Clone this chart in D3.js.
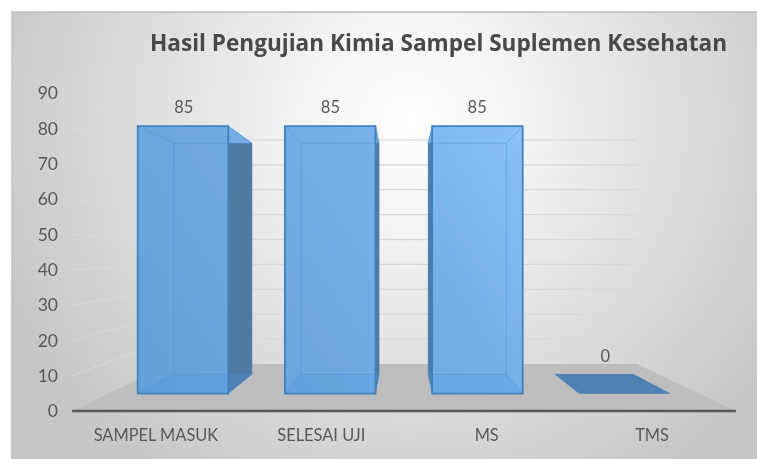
<!DOCTYPE html>
<html><head><meta charset="utf-8">
<script src="https://cdn.jsdelivr.net/npm/d3@7"></script>
<style>html,body{margin:0;padding:0;background:#fff}svg{display:block}</style>
</head><body><svg id="c" width="757" height="459"></svg>
<script>
const chartTitle = "Hasil Pengujian Kimia Sampel Suplemen Kesehatan";
const categories = ["SAMPEL MASUK","SELESAI UJI","MS","TMS"];
const values = [85,85,85,0];
const yTicks = [0,10,20,30,40,50,60,70,80,90];

const W=757,H=459;
const svg=d3.select("#c");
const defs=svg.append("defs");
const bg=defs.append("radialGradient").attr("id","bg").attr("gradientUnits","userSpaceOnUse")
  .attr("cx",410).attr("cy",120).attr("r",440)
  .attr("gradientTransform","translate(410 120) scale(1 .98) translate(-410 -120)");
[[0,"#ffffff"],[.25,"#f4f4f4"],[.6,"#dedede"],[1,"#c6c6c6"]].forEach(s=>bg.append("stop").attr("offset",s[0]).attr("stop-color",s[1]));
const fg=defs.append("linearGradient").attr("id","front").attr("gradientUnits","userSpaceOnUse")
  .attr("x1",130).attr("x2",530).attr("y1",390).attr("y2",130);
[[0,"#659fd8"],[.35,"#6ea7dd"],[.65,"#74aee6"],[1,"#8ac2f6"]].forEach(s=>fg.append("stop").attr("offset",s[0]).attr("stop-color",s[1]));
defs.append("filter").attr("id","soft").attr("x","-5%").attr("y","-5%").attr("width","110%").attr("height","110%")
  .append("feGaussianBlur").attr("stdDeviation",.5);

// depth-aware scales: d=0 is the front of the floor, d=1 the back wall
const floorY=d3.scaleLinear([0,1],[411,364]);
const unitY=d3.scaleLinear([0,1],[3.533,2.49]);
const leftX=d3.scaleLinear([0,1],[72,170]);
const rightX=d3.scaleLinear([0,1],[736,637]);
const band=d3.scaleBand(categories,[0,1]).paddingInner(.385).paddingOuter(.2);
const P=(fx,v,d)=>[leftX(d)+fx*(rightX(d)-leftX(d)),floorY(d)-v*unitY(d)];
const poly=pts=>"M"+pts.map(p=>p.join(",")).join("L")+"Z";
const line=pts=>"M"+pts.map(p=>p.join(",")).join("L");
const dF=.37,dB=.78;

svg.append("rect").attr("x",11).attr("y",12).attr("width",W-11).attr("height",H-12).attr("fill","url(#bg)");
svg.append("line").attr("x1",11).attr("x2",W).attr("y1",12).attr("y2",12).attr("stroke","#bcbcbc").attr("stroke-width",1.6);

const g=svg.append("g").attr("filter","url(#soft)");
// floor
g.append("path").attr("d",poly([P(0,0,0),P(1,0,0),P(1,0,1),P(0,0,1)])).attr("fill","#bdbdbd");
// grid: side wall faint, back wall firmer
yTicks.filter(t=>t>0).forEach(t=>{
  g.append("path").attr("fill","none").attr("stroke","#dedede").attr("stroke-opacity",.45).attr("stroke-width",1.3)
   .attr("d",line([P(0,t,0),P(0,t,1)]));
  g.append("path").attr("fill","none").attr("stroke","#d8d8d8").attr("stroke-width",1.3)
   .attr("d",line([P(0,t,1),P(1,t,1)]));
});
// bars
categories.forEach((c,i)=>{
  const a=band(c),b=a+band.bandwidth(),v=values[i];
  const bar=g.append("g");
  if(v===0){
    bar.append("path").attr("d",poly([P(a,0,dF),P(b,0,dF),P(b,0,dB),P(a,0,dB)])).attr("fill","#4f80b2").attr("stroke","#5088bd").attr("stroke-width",.8);
    return;
  }
  // sides
  if(P(b,v,dB)[0]-P(b,v,dF)[0]>1)
    bar.append("path").attr("d",poly([P(b,0,dF),P(b,v,dF),P(b,v,dB),P(b,0,dB)])).attr("fill","#4f7aa4");
  if(P(a,v,dB)[0]<P(a,v,dF)[0]-1)
    bar.append("path").attr("d",poly([P(a,0,dF),P(a,v,dF),P(a,v,dB),P(a,0,dB)])).attr("fill","#4f7aa4");
  // top
  bar.append("path").attr("d",poly([P(a,v,dF),P(b,v,dF),P(b,v,dB),P(a,v,dB)])).attr("fill","#74ade4");
  // front
  bar.append("path").attr("d",poly([P(a,0,dF),P(b,0,dF),P(b,v,dF),P(a,v,dF)])).attr("fill","url(#front)");
  // floor of the bar, seen through the front
  bar.append("path").attr("d",poly([P(a,0,dF),P(b,0,dF),P(b,0,dB),P(a,0,dB)])).attr("fill","#4f96e0").attr("fill-opacity",.25);
  // inner back edges, seen through the front
  bar.append("path").attr("fill","none").attr("stroke","#4f8fcf").attr("stroke-opacity",.5).attr("stroke-width",1)
    .attr("d",line([P(a,v,dF),P(a,v,dB),P(b,v,dB),P(b,v,dF)])
      +line([P(a,0,dF),P(a,0,dB),P(b,0,dB),P(b,0,dF)])
      +line([P(a,v,dB),P(a,0,dB)])+line([P(b,v,dB),P(b,0,dB)]));
  // front outline
  bar.append("path").attr("d",poly([P(a,0,dF),P(b,0,dF),P(b,v,dF),P(a,v,dF)])).attr("fill","none").attr("stroke","#3f82bf").attr("stroke-width",1.8);
});
// axis line
g.append("line").attr("x1",leftX(0)).attr("x2",rightX(0)).attr("y1",floorY(0)).attr("y2",floorY(0)).attr("stroke","#595959").attr("stroke-width",2.4);

const font="Lato, 'Open Sans', sans-serif";
const txt=svg.append("g").attr("filter","url(#soft)").attr("font-family",font).attr("fill","#595959");
// y tick labels
yTicks.forEach(t=>txt.append("text").attr("x",58).attr("y",P(0,t,0)[1]).attr("dy",".36em").attr("text-anchor","end").attr("font-size",17.5).text(t));
// category labels
categories.forEach(c=>txt.append("text").attr("x",P(band(c)+band.bandwidth()/2,0,0)[0]).attr("y",435).attr("dy",".36em").attr("text-anchor","middle").attr("font-size",16.4).text(c));
// data labels
const labDepth=d3.scaleLinear([0,85],[.63,.38]), labOff=d3.scaleLinear([0,85],[25,19.5]);
categories.forEach((c,i)=>{
  const p=P(band(c)+band.bandwidth()/2,values[i],labDepth(values[i]));
  txt.append("text").attr("x",p[0]).attr("y",p[1]-labOff(values[i])).attr("dy",".36em").attr("text-anchor","middle").attr("font-size",16.5).text(values[i]);
});
// title
txt.append("text").attr("x",150).attr("y",51).attr("font-family","'Open Sans', sans-serif").attr("font-weight",700).attr("font-size",22.6).attr("fill","#484848").text(chartTitle);
</script></body></html>
